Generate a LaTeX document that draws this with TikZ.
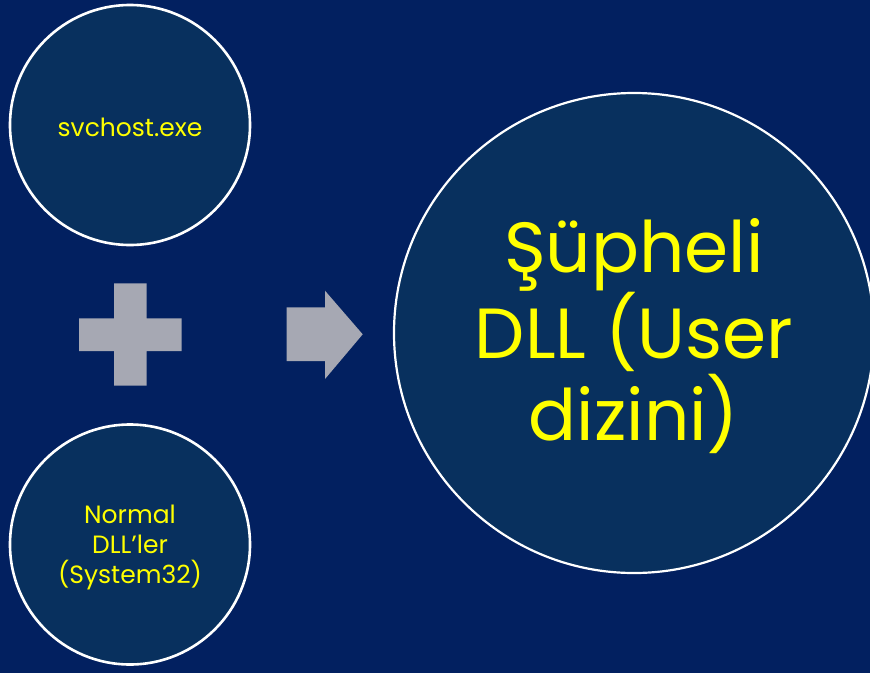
\documentclass[tikz,border=0pt]{standalone}
\usepackage{fontspec}
\setmainfont{Poppins}
\definecolor{bgnavy}{HTML}{022060}
\definecolor{discfill}{HTML}{08305E}
\definecolor{shapegray}{HTML}{A6A8B3}
\definecolor{labelyellow}{HTML}{FFFF00}
\tikzset{
  disc/.style={circle, draw=white, fill=discfill, inner sep=0pt},
  smalldisc/.style={disc, line width=2.6pt, minimum size=240pt},
  bigdisc/.style={disc, line width=2.2pt, minimum size=480pt},
  label/.style={text=labelyellow, align=center},
  smalltext/.style={label, font=\fontsize{25}{30}\selectfont},
  bigtext/.style={label, font=\fontsize{71}{82}\selectfont},
  glyph/.style={fill=shapegray, draw=none}
}
\begin{document}
\begin{tikzpicture}[x=1pt, y=-1pt]
  \fill[bgnavy] (0,0) rectangle (870,673);
  \useasboundingbox (0,0) rectangle (870,673);

  % source discs
  \node[smalldisc] (svc) at (130,125) {};
  \node[smalltext] (svct) at ([yshift=-2pt]svc.center) {svchost.exe};
  \node[smalldisc] (dll) at (130,544.5) {};
  \node[smalltext] (dllt) at ([yshift=-3pt]dll.center) {Normal\\DLL’ler\\(System32)};

  % result disc
  \node[bigdisc] (sus) at (634,333) {};
  \node[bigtext] (sust) at ([yshift=-3pt]sus.center) {Şüpheli\\DLL (User\\dizini)};

  % plus sign
  \fill[glyph] (114,283.3) -- (146.7,283.3) -- (146.7,318.3) -- (181.7,318.3)
    -- (181.7,351) -- (146.7,351) -- (146.7,385.7) -- (114,385.7)
    -- (114,351) -- (79,351) -- (79,318.3) -- (114,318.3) -- cycle;

  % block arrow
  \fill[glyph] (286.7,307.3) -- (325,307.3) -- (325,290.7) -- (362.7,334.3)
    -- (325,379) -- (325,361) -- (286.7,361) -- cycle;
\end{tikzpicture}
\end{document}
